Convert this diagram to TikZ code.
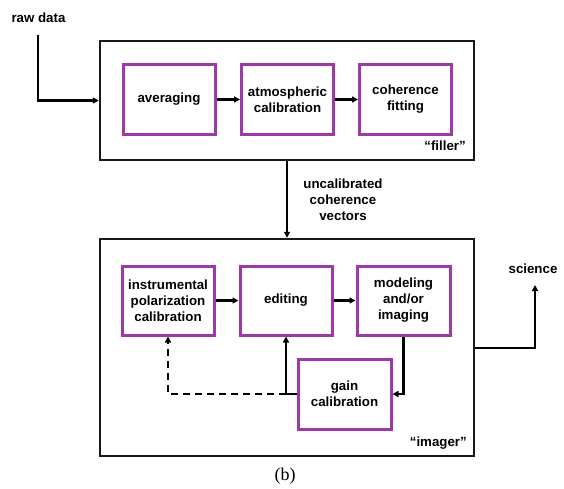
\documentclass[tikz,border=0pt]{standalone}
\usepackage{fontspec}
\setsansfont{Liberation Sans}
\newfontfamily\capfont{Liberation Serif}
\usetikzlibrary{arrows.meta}
\definecolor{boxpurple}{RGB}{158,58,168}
\tikzset{
  lbl/.style={font=\sffamily\bfseries\fontsize{13.3}{16}\selectfont, align=center, inner sep=0pt},
  outerbox/.style={draw=black!90, line width=2.4pt, minimum width=374pt, inner sep=0pt},
  procbox/.style={draw=boxpurple, line width=3pt, minimum width=92pt, minimum height=70pt, inner sep=2pt,
    font=\sffamily\bfseries\fontsize{13.3}{16}\selectfont, align=center},
  arr/.style={line width=2.2pt, -{Triangle[length=6pt,width=6pt]}},
  darr/.style={arr, dash pattern=on 7pt off 5pt},
}
\begin{document}
\begin{tikzpicture}[x=1pt,y=-1pt]
\useasboundingbox (0,0) rectangle (564,488);
% outer boxes
\node[outerbox, minimum height=119pt] (filler) at (287,100.5) {};
\node[outerbox, minimum height=217pt] (imager) at (287,347.5) {};
% top row
\node[procbox] (avg) at (169,99.5) {averaging};
\node[procbox] (atm) at (287.5,99.5) {atmospheric\\calibration};
\node[procbox] (coh) at (405.5,99.5) {coherence\\fitting};
% lower row
\node[procbox, minimum height=69pt] (pol) at (168,300.5) {instrumental\\polarization\\calibration};
\node[procbox, minimum height=69pt] (edit) at (286,300.5) {editing};
\node[procbox, minimum height=69pt, minimum width=93pt] (model) at (403.5,300.5) {modeling\\and/or\\imaging};
\node[procbox, minimum width=93pt] (gain) at (344.5,394) {gain\\calibration};
% labels
\node[lbl] (rawlbl) at (38.5,18) {raw data};
\node[lbl, anchor=east] (fillerlbl) at (466,146) {“filler”};
\node[lbl, anchor=east] (imagerlbl) at (467,443) {“imager”};
\node[lbl] (uncal) at (343,200) {uncalibrated\\coherence\\vectors};
\node[lbl] (sci) at (533,269) {science};
\node[font=\capfont\fontsize{18}{20}\selectfont, inner sep=0pt] (b) at (285,476) {(b)};
% connectors
\coordinate (rawstart) at (38,35);
\draw[arr] (rawstart) |- (filler.west);
\draw[arr] (avg) -- (atm);
\draw[arr] (atm) -- (coh);
\draw[arr] (filler.south) -- (imager.north);
\draw[arr] (pol) -- (edit);
\draw[arr] (edit) -- (model);
\draw[arr] (model.south) |- (gain.east);
\draw[arr] (gain.west) -| (edit.south);
\coordinate (dashcorner) at (edit.south |- gain.west);
\draw[darr] (dashcorner) -| (pol.south);
\coordinate (sciout) at (imager.east |- 0,348);
\coordinate (scitop) at (535,285);
\draw[arr] (sciout) -| (scitop);
\end{tikzpicture}
\end{document}
